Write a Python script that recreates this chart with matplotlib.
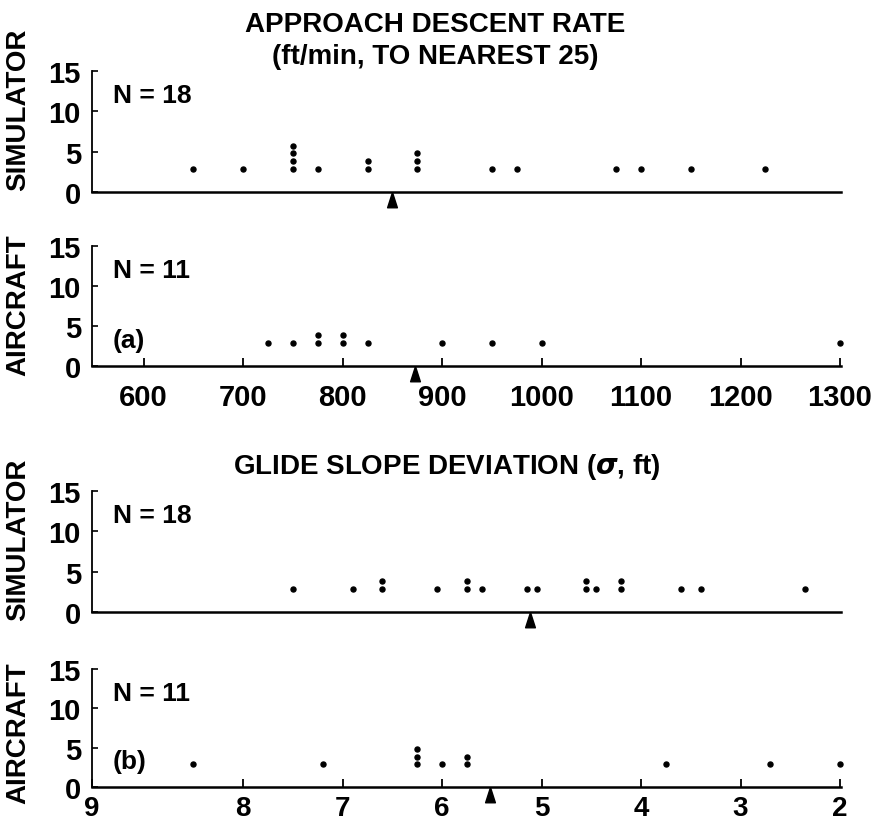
import matplotlib
matplotlib.use("Agg")
import matplotlib.pyplot as plt
from collections import Counter

plt.rcParams['font.family'] = ['Liberation Sans', 'DejaVu Sans']
plt.rcParams['font.weight'] = 'bold'
plt.rcParams['mathtext.default'] = 'it'

# approach descent rate, ft/min (one entry per run)
sim_rate = [650, 700, 750, 750, 750, 750, 775, 825, 825, 875, 875, 875,
            950, 975, 1075, 1100, 1150, 1225]
air_rate = [725, 750, 775, 775, 800, 800, 825, 900, 950, 1000, 1300]
rate_marks = [850, 873]          # arrows under the axis (sim, aircraft)
rate_ticks = [600, 700, 800, 900, 1000, 1100, 1200, 1300]

# glide slope deviation, sigma ft
sim_gs = [7.5, 6.9, 6.6, 6.6, 6.05, 5.75, 5.75, 5.6, 5.15, 5.05, 4.55, 4.55,
          4.45, 4.2, 4.2, 3.6, 3.4, 2.35]
air_gs = [8.5, 7.2, 6.25, 6.25, 6.25, 6.0, 5.75, 5.75, 3.75, 2.7, 2.0]
gs_marks = [5.12, 5.52]
gs_ticks = [8, 7, 6, 5, 4, 3, 2]

y_ticks = [0, 5, 10, 15]

W, H = 871, 829
fig = plt.figure(figsize=(W/100, H/100), dpi=100)

left, right = 92, 841
panels = [(72, 193), (247, 367), (492, 613), (670, 788)]
axes = []
for top, bot in panels:
    ax = fig.add_axes([left/W, 1 - bot/H, (right-left)/W, (bot-top)/H])
    axes.append(ax)

tri = [(0, 0), (-0.32, -1), (0.32, -1), (0, 0)]


def dots(ax, vals, mark, n, lab=None):
    cnt = Counter()
    xs, ys = [], []
    for v in vals:
        xs.append(v)
        ys.append(2.9 + 0.95*cnt[v])
        cnt[v] += 1
    ax.plot(xs, ys, 'o', color='black', ms=3.6, clip_on=False)
    ax.plot([mark], [0], marker=tri, ms=22, color='black', ls='none',
            clip_on=False, zorder=5)
    ax.set_ylim(0, 15)
    ax.set_yticks(y_ticks)
    ax.spines['top'].set_visible(False)
    ax.spines['right'].set_visible(False)
    ax.spines['left'].set_linewidth(1.3)
    ax.spines['bottom'].set_linewidth(1.8)
    ax.tick_params(axis='y', direction='in', length=4, width=1.2,
                   labelsize=21, pad=8)
    ax.text(0.028, 0.8, f"N = {n}", transform=ax.transAxes, fontsize=19,
            fontweight='bold', va='center')
    if lab:
        ax.text(0.028, 0.22, lab, transform=ax.transAxes, fontsize=19,
                fontweight='bold', va='center')


dots(axes[0], sim_rate, rate_marks[0], len(sim_rate))
dots(axes[1], air_rate, rate_marks[1], len(air_rate), "(a)")
dots(axes[2], sim_gs, gs_marks[0], len(sim_gs))
dots(axes[3], air_gs, gs_marks[1], len(air_gs), "(b)")

for ax in axes[:2]:
    ax.set_xlim(548, 1301)
for ax in axes[2:]:
    ax.set_xlim(9.52, 1.99)

for ax in (axes[0], axes[2]):
    ax.set_xticks([])

axes[1].set_xticks(rate_ticks)
axes[1].set_xticklabels([str(t) for t in rate_ticks])
axes[1].tick_params(axis='x', direction='in', length=6, width=1.3,
                    labelsize=21, pad=12)
axes[3].set_xticks([9.52] + gs_ticks)
axes[3].set_xticklabels(["9"] + [str(t) for t in gs_ticks])
axes[3].tick_params(axis='x', direction='in', length=6, width=1.3,
                    labelsize=20, pad=6)

fig.text(0.5, 1 - 25/H, "APPROACH DESCENT RATE", ha='center', va='center',
         fontsize=20, fontweight='bold')
fig.text(0.5, 1 - 57/H, "(ft/min, TO NEAREST 25)", ha='center', va='center',
         fontsize=20, fontweight='bold')
fig.text(447/W, 1 - 467/H, r"GLIDE SLOPE DEVIATION ($\sigma$, ft)",
         ha='center', va='center', fontsize=20, fontweight='bold')

for yc, s in [(110, "SIMULATOR"), (305, "AIRCRAFT"),
              (540, "SIMULATOR"), (733, "AIRCRAFT")]:
    fig.text(18/W, 1 - yc/H, s, rotation=90, ha='center', va='center',
             fontsize=20, fontweight='bold')

fig.savefig("out.png", dpi=100)
